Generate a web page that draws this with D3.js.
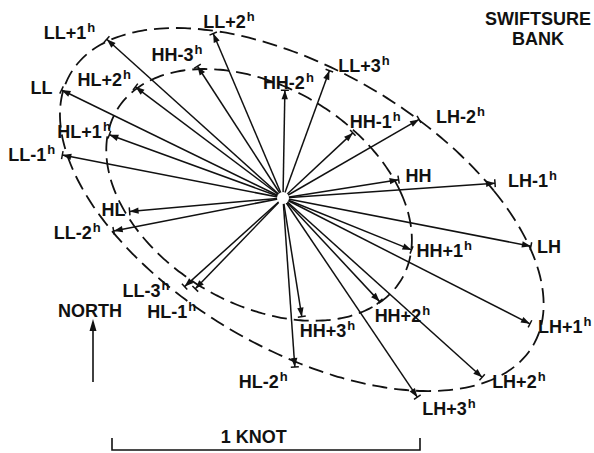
<!DOCTYPE html>
<html>
<head>
<meta charset="utf-8">
<script src="https://cdn.jsdelivr.net/npm/d3@7"></script>
<style>
  html, body { margin: 0; padding: 0; background: #fff; }
  svg { display: block; }
  text { font-family: "Liberation Sans", Arial, sans-serif; font-weight: bold; fill: #111; }
</style>
</head>
<body>
<div id="chart"></div>
<script>
// tidal current vectors, speed in knots, direction in degrees true (towards)
const outerLabels = ["LL-3", "LL-2", "LL-1", "LL", "LL+1", "LL+2", "LL+3",
                     "LH-2", "LH-1", "LH", "LH+1", "LH+2", "LH+3", "HL-2"];
const outerSpeed  = [0.43, 0.56, 0.73, 0.80, 0.77, 0.58, 0.44,
                     0.51, 0.69, 0.82, 0.90, 0.87, 0.78, 0.55];
const outerDir    = [228, 259, 281, 296, 312, 337, 20,
                     60, 86, 101, 117, 132, 146, 176];

const innerLabels = ["HL-1", "HL", "HL+1", "HL+2", "HH-3", "HH-2",
                     "HH-1", "HH", "HH+1", "HH+2", "HH+3"];
const innerSpeed  = [0.41, 0.50, 0.60, 0.60, 0.51, 0.35,
                     0.31, 0.38, 0.45, 0.46, 0.39];
const innerDir    = [224, 265, 290, 307, 327, 1,
                     47, 81, 112, 137, 171];

const stationName = ["SWIFTSURE", "BANK"];
const scaleKnots = [0, 1];

(function () {
  const W = 594, H = 453;
  const cx = 283, cy = 198;          // rose centre on screen

  // label placement: [dx, dy] from tip to label start / baseline
  const labelPos = {
    "LL+1": [-63, 0], "LL+2": [-10, -6], "HH-3": [-46, -5], "HL+2": [-58, -1],
    "LL": [-31, 4], "HH-2": [-22, -1], "HL+1": [-52, 3], "LL-1": [-54, 6],
    "HL": [-28, 5], "LL-2": [-60, 8], "LL-3": [-62, 10], "HL-1": [-48, 29],
    "HL-2": [-56, 21], "LL+3": [9, 1], "HH-1": [-3, -5], "LH-2": [17, 4],
    "HH": [7, 2], "LH-1": [13, 4], "HH+1": [5, 7], "LH": [6, 7],
    "HH+2": [-5, 20], "HH+3": [-2, 20], "LH+1": [8, 9], "LH+2": [10, 11],
    "LH+3": [5, 18]
  };

  const k = d3.scaleLinear().domain(scaleKnots).range([0, 308]);

  const toVec = (labels, spd, dir, ring) => labels.map((name, i) => {
    const a = dir[i] * Math.PI / 180;
    return { name, ring, e: spd[i] * Math.sin(a), n: spd[i] * Math.cos(a) };
  });
  const outer = toVec(outerLabels, outerSpeed, outerDir, "outer");
  const inner = toVec(innerLabels, innerSpeed, innerDir, "inner");
  const all = outer.concat(inner);

  const sx = e => cx + k(e);
  const sy = n => cy - k(n);

  const svg = d3.select("#chart").append("svg")
    .attr("width", W).attr("height", H)
    .attr("viewBox", `0 0 ${W} ${H}`);

  // least squares conic a x² + b xy + c y² + d x + e y = 1
  function fitConic(pts) {
    const M = Array.from({ length: 5 }, () => new Array(6).fill(0));
    pts.forEach(p => {
      const f = [p.e * p.e, p.e * p.n, p.n * p.n, p.e, p.n];
      for (let r = 0; r < 5; r++) {
        for (let c = 0; c < 5; c++) M[r][c] += f[r] * f[c];
        M[r][5] += f[r];
      }
    });
    for (let c = 0; c < 5; c++) {
      let piv = c;
      for (let r = c + 1; r < 5; r++) if (Math.abs(M[r][c]) > Math.abs(M[piv][c])) piv = r;
      [M[c], M[piv]] = [M[piv], M[c]];
      for (let r = 0; r < 5; r++) {
        if (r === c) continue;
        const f = M[r][c] / M[c][c];
        for (let j = c; j < 6; j++) M[r][j] -= f * M[c][j];
      }
    }
    return M.map((row, i) => row[5] / row[i]);
  }

  function ellipsePts(pts) {
    const [a, b, c, d, e] = fitConic(pts);
    return d3.range(0, 360, 2).map(deg => {
      const t = deg * Math.PI / 180, ux = Math.cos(t), uy = Math.sin(t);
      const A = a * ux * ux + b * ux * uy + c * uy * uy;
      const B = d * ux + e * uy;
      const r = (-B + Math.sqrt(B * B + 4 * A)) / (2 * A);
      return [sx(r * ux), sy(r * uy)];
    });
  }

  const line = d3.line().curve(d3.curveCardinalClosed);
  [outer, inner].forEach(ring => {
    svg.append("path")
      .attr("d", line(ellipsePts(ring)))
      .attr("fill", "none")
      .attr("stroke", "#111")
      .attr("stroke-width", 1.8)
      .attr("stroke-dasharray", "15,7");
  });

  // vectors
  const g = svg.append("g");
  all.forEach(v => {
    const x = sx(v.e), y = sy(v.n);
    const L = Math.hypot(x - cx, y - cy);
    const ux = (x - cx) / L, uy = (y - cy) / L;
    g.append("line")
      .attr("x1", cx).attr("y1", cy).attr("x2", x).attr("y2", y)
      .attr("stroke", "#111").attr("stroke-width", 1.5);
    // arrow head
    const hl = 9, hw = 3.2;
    const bx = x - ux * hl, by = y - uy * hl;
    g.append("path")
      .attr("d", `M${x},${y}L${bx - uy * hw},${by + ux * hw}L${bx + uy * hw},${by - ux * hw}Z`)
      .attr("fill", "#111");
    // small cross bar at tip
    g.append("line")
      .attr("x1", x - uy * 4).attr("y1", y + ux * 4)
      .attr("x2", x + uy * 4).attr("y2", y - ux * 4)
      .attr("stroke", "#111").attr("stroke-width", 1.5);

    const [dx, dy] = labelPos[v.name] || [6, 4];
    const t = svg.append("text")
      .attr("x", x + dx).attr("y", y + dy)
      .attr("font-size", 18);
    t.append("tspan").text(v.name);
    if (/[+-]/.test(v.name)) {
      t.append("tspan").attr("dx", 1).attr("dy", -7)
        .attr("font-size", 13).text("h");
    }
  });

  svg.append("circle")
    .attr("cx", cx).attr("cy", cy).attr("r", 6)
    .attr("fill", "#fff");

  // station name
  svg.append("text")
    .attr("x", 538).attr("y", 25)
    .attr("text-anchor", "middle").attr("font-size", 18)
    .selectAll("tspan").data(stationName).join("tspan")
    .attr("x", 538).attr("dy", (d, i) => i ? 20 : 0)
    .text(d => d);

  // north arrow
  svg.append("text").attr("x", 90).attr("y", 317)
    .attr("text-anchor", "middle").attr("font-size", 18).text("NORTH");
  svg.append("line")
    .attr("x1", 93).attr("y1", 382).attr("x2", 93).attr("y2", 328)
    .attr("stroke", "#111").attr("stroke-width", 1.6);
  svg.append("path")
    .attr("d", "M93,319L89.5,331L96.5,331Z")
    .attr("fill", "#111");

  // scale bar
  const x0 = 112, yb = 450;
  const bar = svg.append("g");
  bar.append("path")
    .attr("d", `M${x0 + k(scaleKnots[0])},${yb - 12}V${yb}H${x0 + k(scaleKnots[1])}V${yb - 12}`)
    .attr("fill", "none").attr("stroke", "#111").attr("stroke-width", 1.6);
  bar.append("text")
    .attr("x", x0 + k(0.46)).attr("y", yb - 7)
    .attr("text-anchor", "middle").attr("font-size", 18)
    .text(`${scaleKnots[1]} KNOT`);
})();
</script>
</body>
</html>
